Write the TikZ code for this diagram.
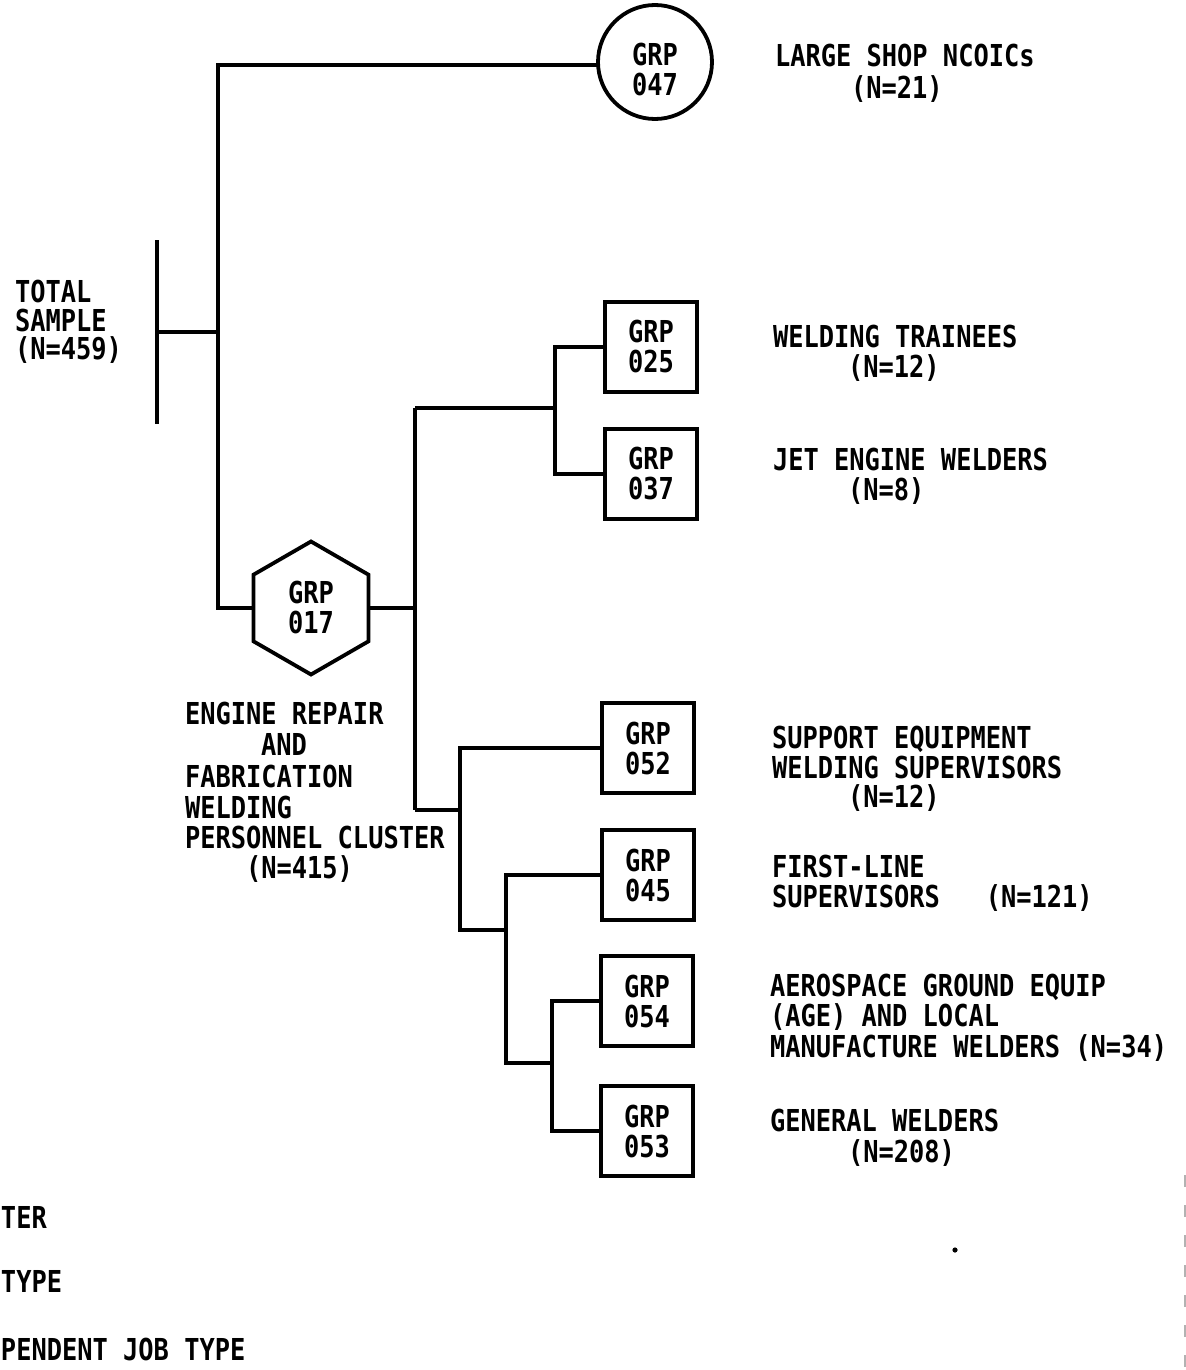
\documentclass[tikz,border=0pt]{standalone}
\usepackage{fontspec}
\newfontfamily\typ[FakeStretch=0.84]{DejaVu Sans Mono}
\usetikzlibrary{shapes.geometric}
\tikzset{
  lbl/.style={anchor=base west, inner sep=0pt, outer sep=0pt, font=\typ\bfseries\fontsize{15.1pt}{15.25pt}\selectfont},
  grpfont/.style={font=\typ\bfseries\fontsize{15.1pt}{15pt}\selectfont, align=center, inner sep=0pt, outer sep=0pt},
  grpbox/.style={grpfont, draw, line width=1.9pt, rectangle, minimum width=46pt, minimum height=45pt},
  grpcirc/.style={draw, line width=1.9pt, circle, inner sep=0pt, outer sep=0pt, minimum size=57pt},
  grphex/.style={grpfont, draw, line width=1.9pt, regular polygon, regular polygon sides=6, shape border rotate=30, minimum size=66.5pt},
  conn/.style={line width=1.9pt}
}
\begin{document}
\begin{tikzpicture}[x=0.5pt,y=-0.5pt]
\useasboundingbox (0,0) rectangle (1186,1370);
\fill[white] (0,0) rectangle (1186,1370);

% group nodes
\node[grpcirc] (c047) at (655,62) {};
\node[grpfont] (c047t) at (655,70) {GRP\\047};
\node[grphex]  (h017) at (311,608) {GRP\\017};
\node[grpbox]  (b025) at (651,347) {GRP\\025};
\node[grpbox]  (b037) at (651,474) {GRP\\037};
\node[grpbox]  (b052) at (648,748) {GRP\\052};
\node[grpbox]  (b045) at (648,875) {GRP\\045};
\node[grpbox]  (b054) at (647,1001) {GRP\\054};
\node[grpbox]  (b053) at (647,1131) {GRP\\053};

% junction coordinates
\coordinate (tb1) at (157,240);
\coordinate (tb2) at (157,424);
\coordinate (tbm) at (157,332);
\coordinate (m0) at (218,65);
\coordinate (m1) at (218,332);
\coordinate (m2) at (218,608);
\coordinate (a0) at (415,408);
\coordinate (a1) at (415,608);
\coordinate (a2) at (415,810);
\coordinate (b0) at (555,408);
\coordinate (c0) at (460,810);
\coordinate (c2) at (460,930);
\coordinate (d0) at (506,930);
\coordinate (d2) at (506,1063);
\coordinate (e0) at (552,1063);

% connectors
\draw[conn] (tb1) -- (tb2);
\draw[conn] (tbm) -- (m1);
\draw[conn] (c047.183) -- (m0) -- (m2) -- (h017.180);
\draw[conn] (h017.0) -- (a1);
\draw[conn] (a0) -- (a2);
\draw[conn] (a0) -- (b0);
\draw[conn] (b025.west) -| (b0) |- (b037.west);
\draw[conn] (a2) -- (c0);
\draw[conn] (b052.west) -| (c0) -- (c2) -- (d0);
\draw[conn] (b045.west) -| (d0) -- (d2) -- (e0);
\draw[conn] (b054.west) -| (e0) |- (b053.west);

% labels
\node[lbl] (t1a) at (775,67) {LARGE SHOP NCOICs};
\node[lbl] (t1b) at (851,98) {(N=21)};

\node[lbl] (t0a) at (15,302) {TOTAL};
\node[lbl] (t0b) at (15,331) {SAMPLE};
\node[lbl] (t0c) at (15,359) {(N=459)};

\node[lbl] (t2a) at (773,347) {WELDING TRAINEES};
\node[lbl] (t2b) at (848,377) {(N=12)};

\node[lbl] (t3a) at (773,470) {JET ENGINE WELDERS};
\node[lbl] (t3b) at (848,500) {(N=8)};

\node[lbl] (t4a) at (185,724) {ENGINE REPAIR};
\node[lbl] (t4b) at (261,755) {AND};
\node[lbl] (t4c) at (185,787) {FABRICATION};
\node[lbl] (t4d) at (185,818) {WELDING};
\node[lbl] (t4e) at (185,848) {PERSONNEL CLUSTER};
\node[lbl] (t4f) at (246,878) {(N=415)};

\node[lbl] (t5a) at (772,748) {SUPPORT EQUIPMENT};
\node[lbl] (t5b) at (772,778) {WELDING SUPERVISORS};
\node[lbl] (t5c) at (848,807) {(N=12)};

\node[lbl] (t6a) at (772,877) {FIRST-LINE};
\node[lbl] (t6b) at (772,907) {SUPERVISORS\ \ \ (N=121)};

\node[lbl] (t7a) at (770,996) {AEROSPACE GROUND EQUIP};
\node[lbl] (t7b) at (770,1026) {(AGE) AND LOCAL};
\node[lbl] (t7c) at (770,1057) {MANUFACTURE WELDERS (N=34)};

\node[lbl] (t8a) at (770,1131) {GENERAL WELDERS};
\node[lbl] (t8b) at (848,1162) {(N=208)};

\node[lbl] (l1) at (1,1228) {TER};
\node[lbl] (l2) at (1,1292) {TYPE};
\node[lbl] (l3) at (1,1360) {PENDENT JOB TYPE};

% scan marks
\fill (955,1250) circle[radius=1.3pt];
\draw[gray!60, line width=0.6pt, dash pattern=on 6pt off 9pt] (1185,1175) -- (1185,1370);
\end{tikzpicture}
\end{document}
